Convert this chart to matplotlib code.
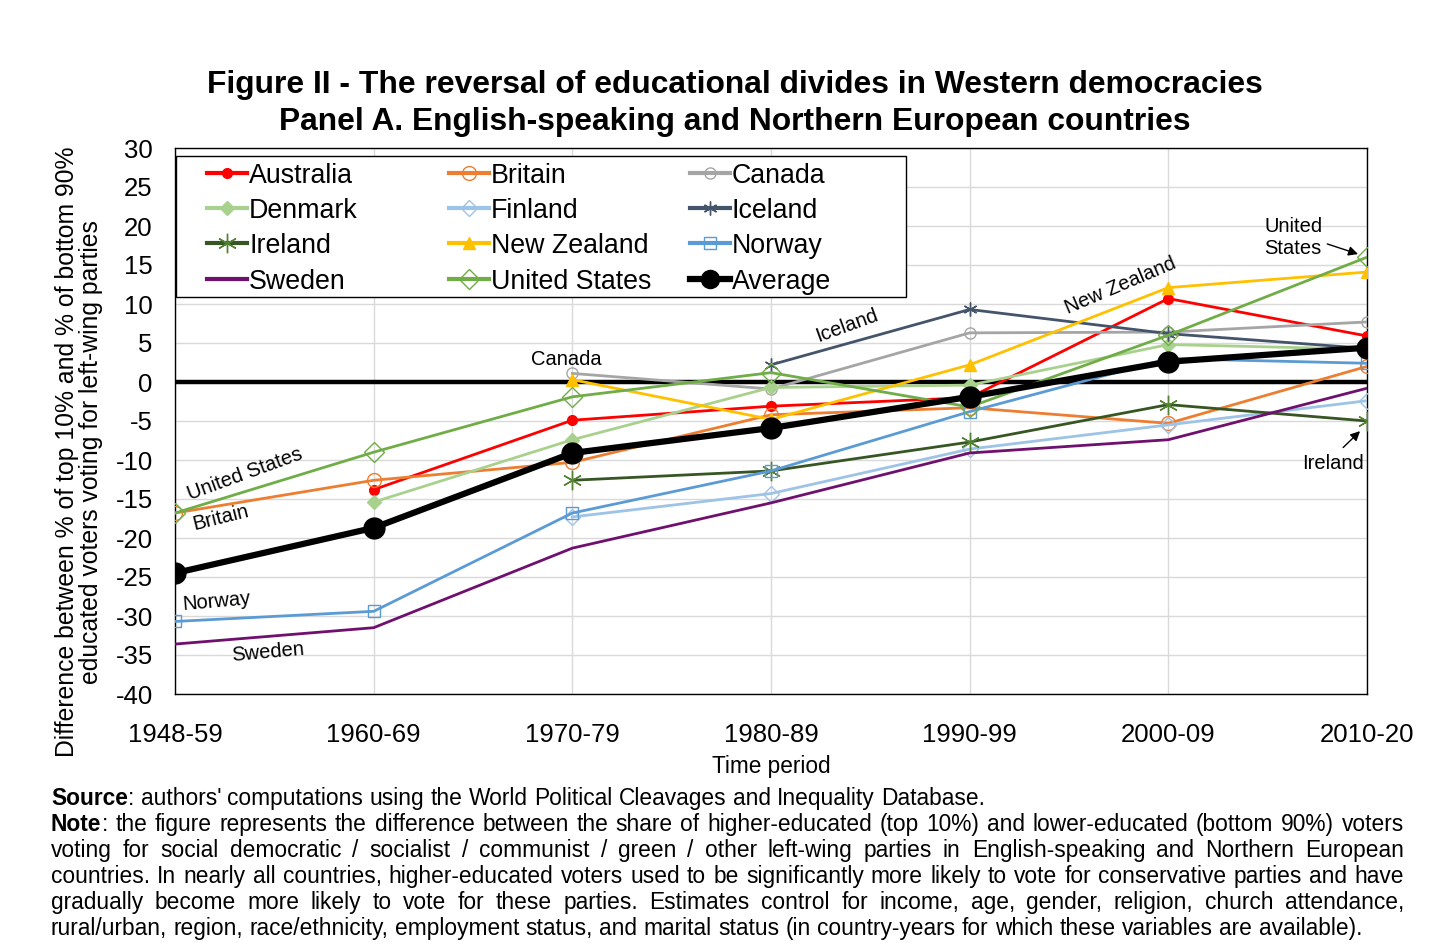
import numpy as np
import matplotlib
matplotlib.use("Agg")
import matplotlib.pyplot as plt
from matplotlib.lines import Line2D
from matplotlib.patches import Rectangle

plt.rcParams['font.family'] = ['Liberation Sans', 'DejaVu Sans']

periods = ["1948-59", "1960-69", "1970-79", "1980-89", "1990-99", "2000-09", "2010-20"]
nan = np.nan
australia = [nan, -13.8, -4.9, -3.1, -2.0, 10.7, 5.9]
britain = [-16.8, -12.6, -10.3, -4.2, -3.3, -5.3, 2.0]
canada = [nan, nan, 1.1, -0.9, 6.3, 6.4, 7.7]
denmark = [nan, -15.4, -7.4, -0.7, -0.4, 4.8, 4.2]
finland = [nan, nan, -17.3, -14.3, -8.6, -5.5, -2.4]
iceland = [nan, nan, nan, 2.2, 9.3, 6.2, 4.3]
ireland = [nan, nan, -12.6, -11.4, -7.7, -2.9, -5.0]
new_zealand = [nan, nan, 0.3, -4.8, 2.2, 12.1, 14.1]
norway = [-30.7, -29.4, -16.8, -11.4, -3.8, 3.0, 2.4]
sweden = [-33.6, -31.5, -21.3, -15.5, -9.1, -7.4, -0.8]
united_states = [-16.8, -9.0, -1.9, 1.2, -3.2, 6.0, 16.0]
average = [-24.5, -18.7, -9.1, -5.9, -1.9, 2.6, 4.4]

yticks = list(range(-40, 31, 5))

W, H = 1456, 950
fig = plt.figure(figsize=(W / 100, H / 100), dpi=100)
ax = fig.add_axes([175 / W, 1 - 694 / H, (1367 - 175) / W, (694 - 148) / H])

x = np.arange(len(periods))
star = (6, 2, 0)
series = {
    "Australia": dict(y=australia, color="#FF0000", marker="o", ms=7, mfc="#FF0000", mec="#FF0000"),
    "Britain": dict(y=britain, color="#ED7D31", marker="o", ms=10, mfc="none", mec="#ED7D31"),
    "Canada": dict(y=canada, color="#A5A5A5", marker="o", ms=8, mfc="none", mec="#A5A5A5"),
    "Denmark": dict(y=denmark, color="#A9D18E", marker="D", ms=7, mfc="#A9D18E", mec="#A9D18E"),
    "Finland": dict(y=finland, color="#9DC3E6", marker="D", ms=8, mfc="none", mec="#9DC3E6"),
    "Iceland": dict(y=iceland, color="#44546A", marker=star, ms=10, mfc="#44546A", mec="#44546A"),
    "Ireland": dict(y=ireland, color="#375623", marker=star, ms=14, mfc="#70AD47", mec="#548235"),
    "New Zealand": dict(y=new_zealand, color="#FFC000", marker="^", ms=9, mfc="#FFC000", mec="#FFC000"),
    "Norway": dict(y=norway, color="#5B9BD5", marker="s", ms=8, mfc="none", mec="#5B9BD5"),
    "Sweden": dict(y=sweden, color="#70106E", marker="None", ms=0, mfc="none", mec="none"),
    "United States": dict(y=united_states, color="#70AD47", marker="D", ms=10, mfc="none", mec="#70AD47"),
    "Average": dict(y=average, color="black", marker="o", ms=15, mfc="black", mec="black"),
}

ax.axhline(0, color="black", lw=3.2, zorder=2)

for name, s in series.items():
    yv = np.array(s["y"], dtype=float)
    lw = 4.5 if name == "Average" else 2.0
    ax.plot(x, yv, color=s["color"], lw=lw, marker=s["marker"], ms=s["ms"],
            mfc=s["mfc"], mec=s["mec"], mew=1.0, zorder=4 if name == "Average" else 3)

ax.set_xlim(0, len(periods) - 1)
ax.set_ylim(-40, 30)
ax.set_yticks(yticks)
ax.set_yticklabels([str(t) for t in yticks])
ax.set_xticks(x)
ax.set_xticklabels(periods)
ax.tick_params(axis="both", length=0, labelsize=18.5)
ax.tick_params(axis="x", pad=21)
ax.tick_params(axis="y", pad=16)
ax.grid(True, color="#D9D9D9", lw=1.0, zorder=0)
ax.set_axisbelow(True)
for sp in ax.spines.values():
    sp.set_color("black")
    sp.set_linewidth(1.0)

# manual legend (Excel-like layout)
leg_rows = [["Australia", "Britain", "Canada"],
            ["Denmark", "Finland", "Iceland"],
            ["Ireland", "New Zealand", "Norway"],
            ["Sweden", "United States", "Average"]]
col_x = [207, 449, 690]
row_y = [173, 208, 243, 279]
fig.add_artist(Rectangle((176 / W, 1 - 297 / H), (906 - 176) / W, (297 - 156) / H,
                         transform=fig.transFigure, facecolor="white", edgecolor="black",
                         lw=1.0, zorder=5))
for r, row in enumerate(leg_rows):
    for c, name in enumerate(row):
        s = series[name]
        x0, x1 = col_x[c], col_x[c] + 40
        yy = 1 - row_y[r] / H
        lw = 4.5 if name == "Average" else 3.0
        fig.add_artist(Line2D([x0 / W, x1 / W], [yy, yy], transform=fig.transFigure,
                              color=s["color"], lw=lw, zorder=6))
        if s["marker"] != "None":
            fig.add_artist(Line2D([(x0 + 20) / W], [yy], transform=fig.transFigure,
                                  marker=s["marker"], ms=s["ms"] if name != "Average" else 13,
                                  mfc=s["mfc"], mec=s["mec"], mew=1.0, lw=0, zorder=7))
        fig.text((x1 + 2) / W, yy, name, fontsize=19.3, ha="left", va="center_baseline", zorder=8)

ann_fs = 14.5
ax.text(0.352, -11.8, "United States", rotation=20, fontsize=ann_fs, ha="center", va="center")
ax.text(0.23, -17.4, "Britain", rotation=14, fontsize=ann_fs, ha="center", va="center")
ax.text(0.208, -28.2, "Norway", rotation=5, fontsize=ann_fs, ha="center", va="center")
ax.text(0.47, -34.6, "Sweden", rotation=5, fontsize=ann_fs, ha="center", va="center")
ax.text(1.97, 2.9, "Canada", rotation=0, fontsize=ann_fs, ha="center", va="center")
ax.text(3.38, 7.2, "Iceland", rotation=20, fontsize=ann_fs, ha="center", va="center")
ax.text(4.76, 12.3, "New Zealand", rotation=23, fontsize=ann_fs, ha="center", va="center")
ax.text(5.63, 18.5, "United\nStates", fontsize=ann_fs, ha="center", va="center", multialignment="left")
ax.text(5.83, -10.4, "Ireland", fontsize=ann_fs, ha="center", va="center")
ax.annotate("", xy=(5.955, 16.4), xytext=(5.80, 17.7),
            arrowprops=dict(arrowstyle="-|>", color="black", lw=1.0, shrinkA=0, shrinkB=0,
                            mutation_scale=14))
ax.annotate("", xy=(5.965, -6.3), xytext=(5.88, -8.4),
            arrowprops=dict(arrowstyle="-|>", color="black", lw=1.0, shrinkA=0, shrinkB=0,
                            mutation_scale=14))

fig.text(735 / W, 1 - 85 / H, "Figure II - The reversal of educational divides in Western democracies",
         ha="center", va="center", fontsize=22.9, fontweight="bold")
fig.text(735 / W, 1 - 122 / H, "Panel A. English-speaking and Northern European countries",
         ha="center", va="center", fontsize=22.9, fontweight="bold")

fig.text(79.5 / W, 1 - 452 / H,
         "Difference between % of top 10% and % of bottom 90%\neducated voters voting for left-wing parties",
         rotation=90, ha="center", va="center", fontsize=17.8, multialignment="center", linespacing=1.0)
fig.text(771 / W, 1 - 767 / H, "Time period", ha="center", va="center", fontsize=16.3)

# footnotes with justification
renderer = fig.canvas.get_renderer()
fs_note = 16.35
x_left, x_right = 51, 1404

def draw_line(words, y_px, justify, bold_first=None):
    artists = []
    widths = []
    base = 1 - (y_px + 6) / H
    for i, w in enumerate(words):
        if i == 0 and bold_first:
            t1 = fig.text(0, base, bold_first, fontsize=fs_note, fontweight="bold", va="baseline")
            t2 = fig.text(0, base, w, fontsize=fs_note, va="baseline")
            w1 = t1.get_window_extent(renderer).width
            w2 = t2.get_window_extent(renderer).width
            artists.append([(t1, 0), (t2, w1)])
            widths.append(w1 + w2)
        else:
            t = fig.text(0, base, w, fontsize=fs_note, va="baseline")
            artists.append([(t, 0)])
            widths.append(t.get_window_extent(renderer).width)
    sp = fig.text(0, 0, "a b", fontsize=fs_note)
    spa = fig.text(0, 0, "ab", fontsize=fs_note)
    space_w = sp.get_window_extent(renderer).width - spa.get_window_extent(renderer).width
    sp.remove(); spa.remove()
    if justify and len(words) > 1:
        gap = (x_right - x_left - sum(widths)) / (len(words) - 1)
    else:
        gap = space_w
    cur = x_left
    for parts, wd in zip(artists, widths):
        for t, off in parts:
            t.set_position(((cur + off) / W, base))
        cur += wd + gap

draw_line(": authors' computations using the World Political Cleavages and Inequality Database.".split(" "),
          799, False, bold_first="Source")
note_lines = [
    ": the figure represents the difference between the share of higher-educated (top 10%) and lower-educated (bottom 90%) voters",
    "voting for social democratic / socialist / communist / green / other left-wing parties in English-speaking and Northern European",
    "countries. In nearly all countries, higher-educated voters used to be significantly more likely to vote for conservative parties and have",
    "gradually become more likely to vote for these parties. Estimates control for income, age, gender, religion, church attendance,",
    "rural/urban, region, race/ethnicity, employment status, and marital status (in country-years for which these variables are available).",
]
for i, ln in enumerate(note_lines):
    draw_line(ln.split(" "), 825 + 26 * i, i < len(note_lines) - 1, bold_first="Note" if i == 0 else None)

fig.savefig("out.png", dpi=100)
